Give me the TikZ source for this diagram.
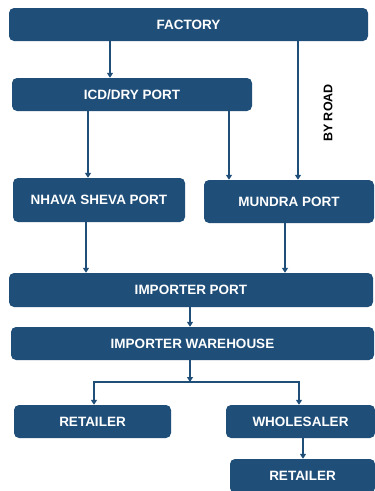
\documentclass[tikz,border=0pt]{standalone}
\usepackage{fontspec}
\setmainfont{Liberation Sans}
\usetikzlibrary{arrows.meta}
\definecolor{boxblue}{HTML}{1F4E79}
\begin{document}
\begin{tikzpicture}[x=1pt,y=-1pt,
  box/.style={draw=none,fill=boxblue,rounded corners=5pt,text=white,
    font=\fontsize{13.5}{15}\selectfont\bfseries,inner sep=0pt},
  arr/.style={draw=boxblue,line width=2pt,-{Triangle[length=5pt,width=6pt]}},
  ln/.style={draw=boxblue,line width=2pt}]
\clip (0,0) rectangle (375,491);
\fill[white] (0,0) rectangle (375,491);
\node[box,minimum width=359pt,minimum height=33pt] (factory) at (188.5,24.5) {FACTORY};
\node[box,minimum width=240pt,minimum height=33pt] (icd) at (132,94.5) {ICD/DRY PORT};
\node[box,minimum width=172pt,minimum height=44pt] (nhava) at (99,200) {NHAVA SHEVA PORT};
\node[box,minimum width=170pt,minimum height=43pt] (mundra) at (289,201.5) {MUNDRA PORT};
\node[box,minimum width=364pt,minimum height=34pt] (impport) at (191,290) {IMPORTER PORT};
\node[box,minimum width=363pt,minimum height=33pt] (warehouse) at (192.5,343.5) {IMPORTER WAREHOUSE};
\node[box,minimum width=157pt,minimum height=33pt] (retl) at (92.5,421.5) {RETAILER};
\node[box,minimum width=149pt,minimum height=33pt] (whole) at (300.5,421.5) {WHOLESALER};
\node[box,minimum width=145pt,minimum height=34pt] (retr) at (302.5,476) {RETAILER};
\node[rotate=90,font=\fontsize{12.5}{14}\selectfont\bfseries] (road) at (328,113) {BY ROAD};
\coordinate (j) at (190,382);
\draw[arr] (factory.south -| 110,0) -- (icd.north -| 110,0);
\draw[arr] (factory.south -| 298,0) -- (mundra.north -| 298,0);
\draw[arr] (icd.south -| 88,0) -- (nhava.north -| 88,0);
\draw[arr] (icd.south -| 229,0) -- (mundra.north -| 229,0);
\draw[arr] (nhava.south -| 86,0) -- (impport.north -| 86,0);
\draw[arr] (mundra.south -| 285,0) -- (impport.north -| 285,0);
\draw[arr] (impport.south -| 190,0) -- (warehouse.north -| 190,0);
\draw[arr] (warehouse.south -| j) -- (j);
\draw[arr] (j) -| (retl.north -| 94,0);
\draw[arr] (j) -| (whole.north -| 299,0);
\draw[arr] (whole.south -| 303,0) -- (retr.north -| 303,0);
\end{tikzpicture}
\end{document}
